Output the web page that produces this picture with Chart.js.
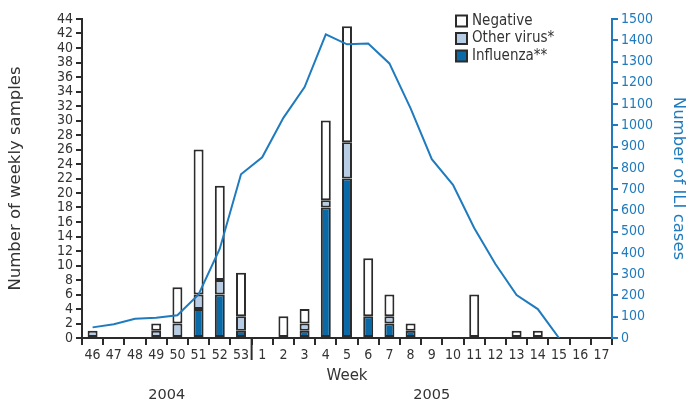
<!DOCTYPE html>
<html>
<head>
<meta charset="utf-8">
<script src="https://cdn.jsdelivr.net/npm/chart.js@4/dist/chart.umd.min.js"></script>
<style>
  html, body { margin: 0; background: #fff; }
  #wrap { width: 688px; height: 406px; position: relative; }
</style>
</head>
<body>
<div id="wrap"><canvas id="myChart"></canvas></div>
<script>
'use strict';

const weeks = ['46', '47', '48', '49', '50', '51', '52', '53',
  '1', '2', '3', '4', '5', '6', '7', '8', '9', '10', '11', '12', '13', '14', '15', '16', '17'];
const years = ['2004', '2005'];
const influenza = [0, 0, 0, 0, 0, 4, 6, 1, 0, 0, 1, 18, 22, 3, 2, 1, 0, 0, 0, 0, 0, 0, 0, 0, 0];
const otherVirus = [1, 0, 0, 1, 2, 2, 2, 2, 0, 0, 1, 1, 5, 0, 1, 0, 0, 0, 0, 0, 0, 0, 0, 0, 0];
const negative = [0, 0, 0, 1, 5, 20, 13, 6, 0, 3, 2, 11, 16, 8, 3, 1, 0, 0, 6, 0, 1, 1, 0, 0, 0];
const iliCases = [50, 65, 90, 95, 107, 205, 420, 770, 850, 1035, 1180, 1428, 1381, 1385, 1291,
  1080, 841, 720, 517, 348, 202, 136, 0, null, null];

const FONT = "'DejaVu Sans Condensed', 'Liberation Sans Narrow', 'DejaVu Sans', sans-serif";
const TITLE_FONT = "'DejaVu Sans', sans-serif";
const DARK = '#2b2b2b';
const BLUE = '#1f7bbd';

// zero counts are left out so that no empty outlined box is drawn
const noZero = (arr) => arr.map((v) => (v === 0 ? null : v));

const barStyle = {
  type: 'bar',
  yAxisID: 'y',
  borderColor: DARK,
  borderWidth: 2,
  borderSkipped: false,
  barPercentage: 0.47,
  categoryPercentage: 1,
  order: 1,
};

// legend drawn by hand: vertical, in the top right of the plot
const legendItems = [
  { label: 'Negative', color: '#ffffff' },
  { label: 'Other virus*', color: '#b7cde6' },
  { label: 'Influenza**', color: '#0a6aa8' },
];

const extras = {
  id: 'extras',
  afterDraw(chart) {
    const { ctx, scales } = chart;
    const x = scales.x;
    const bottom = x.top;
    ctx.save();

    // longer tick between the two years
    const split = weeks.indexOf('1');
    const xs = (x.getPixelForValue(split - 1) + x.getPixelForValue(split)) / 2;
    ctx.strokeStyle = DARK;
    ctx.lineWidth = 2;
    ctx.beginPath();
    ctx.moveTo(xs, bottom);
    ctx.lineTo(xs, bottom + 22);
    ctx.stroke();

    ctx.fillStyle = '#333';
    ctx.textAlign = 'center';
    ctx.textBaseline = 'middle';

    // axis title
    ctx.font = '15px ' + TITLE_FONT;
    ctx.fillText('Week', (x.left + x.right) / 2, 376);

    // year labels
    ctx.font = '14.5px ' + TITLE_FONT;
    const groups = [[0, split - 1], [split, weeks.length - 1]];
    groups.forEach(([a, b], i) => {
      const cx = (x.getPixelForValue(a) + x.getPixelForValue(b)) / 2;
      ctx.fillText(years[i], cx, 395);
    });

    // legend
    ctx.font = '15px ' + FONT;
    ctx.textAlign = 'left';
    legendItems.forEach((item, i) => {
      const y = 21 + i * 17.5;
      ctx.fillStyle = item.color;
      ctx.fillRect(456, y - 5.5, 11, 11);
      ctx.strokeStyle = DARK;
      ctx.lineWidth = 2;
      ctx.strokeRect(456, y - 5.5, 11, 11);
      ctx.fillStyle = '#333';
      ctx.fillText(item.label, 472, y);
    });
    ctx.restore();
  },
};

const ctx = document.getElementById('myChart');

new Chart(ctx, {
  data: {
    labels: weeks,
    datasets: [
      {
        type: 'line',
        label: 'ILI cases',
        data: iliCases,
        yAxisID: 'y1',
        borderColor: BLUE,
        borderWidth: 2,
        pointRadius: 0,
        tension: 0,
        order: 0,
      },
      { ...barStyle, label: 'Influenza**', data: noZero(influenza), backgroundColor: '#0a6aa8' },
      { ...barStyle, label: 'Other virus*', data: noZero(otherVirus), backgroundColor: '#b7cde6' },
      { ...barStyle, label: 'Negative', data: noZero(negative), backgroundColor: '#ffffff' },
    ],
  },
  options: {
    responsive: true,
    maintainAspectRatio: false,
    animation: false,
    layout: { padding: { top: 19, left: 0, right: 0, bottom: 0 } },
    plugins: {
      legend: { display: false },
      tooltip: { enabled: false },
    },
    scales: {
      x: {
        stacked: true,
        afterFit: (s) => { s.height = 68; },
        grid: {
          offset: true,
          drawOnChartArea: false,
          color: DARK,
          lineWidth: 2,
          tickLength: 7,
        },
        border: { color: DARK, width: 2 },
        ticks: { color: '#333', font: { family: FONT, size: 14 }, padding: 2, maxRotation: 0, autoSkip: false },
      },
      y: {
        stacked: true,
        position: 'left',
        min: 0,
        max: 44,
        afterFit: (s) => { s.width = 82; },
        grid: { drawOnChartArea: false, color: DARK, lineWidth: 2, tickLength: 6 },
        border: { color: DARK, width: 2 },
        ticks: { stepSize: 2, autoSkip: false, color: '#333', font: { family: FONT, size: 14 }, padding: 3 },
        title: {
          display: true, text: 'Number of weekly samples', color: '#333',
          font: { family: TITLE_FONT, size: 16.5 }, padding: { top: 6, bottom: 0 },
        },
      },
      y1: {
        position: 'right',
        min: 0,
        max: 1500,
        afterFit: (s) => { s.width = 76; },
        grid: { drawOnChartArea: false, color: BLUE, lineWidth: 2, tickLength: 6 },
        border: { color: BLUE, width: 2 },
        ticks: {
          stepSize: 100, autoSkip: false, color: BLUE, font: { family: FONT, size: 14 }, padding: 3,
          callback: (v) => String(v),
        },
        title: {
          display: true, text: 'Number of ILI cases', color: BLUE,
          font: { family: TITLE_FONT, size: 16.5 }, padding: { top: 0, bottom: 0 },
        },
      },
    },
  },
  plugins: [extras],
});
</script>
</body>
</html>
